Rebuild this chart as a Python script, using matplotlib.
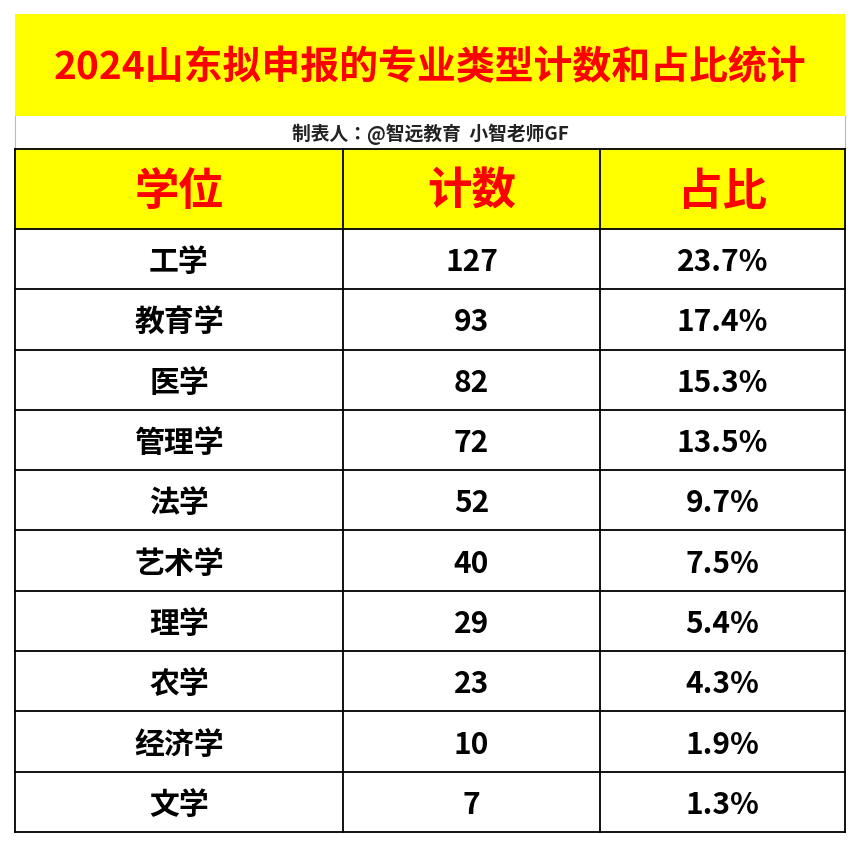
import matplotlib
matplotlib.use("Agg")
import matplotlib.pyplot as plt
from matplotlib.patches import Rectangle
from matplotlib import font_manager as fm

title = "2024山东拟申报的专业类型计数和占比统计"
subtitle = "制表人：@智远教育  小智老师GF"
headers = ["学位", "计数", "占比"]
degrees = ["工学", "教育学", "医学", "管理学", "法学", "艺术学", "理学", "农学", "经济学", "文学"]
counts = [127, 93, 82, 72, 52, 40, 29, 23, 10, 7]
shares = ["23.7%", "17.4%", "15.3%", "13.5%", "9.7%", "7.5%", "5.4%", "4.3%", "1.9%", "1.3%"]

files = sorted(fm.findSystemFonts())
cjk = [f for f in files if "CJK" in f and "Serif" not in f and "Sans" in f]
bold = [f for f in cjk if "Bold" in f] or cjk
def fp(size):
    if bold:
        return fm.FontProperties(fname=bold[0], size=size)
    return fm.FontProperties(family="Noto Sans CJK SC", weight="bold", size=size)

W, H = 860, 847
fig = plt.figure(figsize=(W/100, H/100), dpi=100)
ax = fig.add_axes([0, 0, 1, 1])
ax.set_xlim(0, W); ax.set_ylim(H, 0); ax.axis("off")
L, R = 15, 845
cols = [15, 343, 600, 845]
yel = "#FFFF00"; red = "#FF0000"

ax.add_patch(Rectangle((L, 14), R-L, 102, fc=yel, ec="none"))
ax.text((L+R)/2, 68, title, ha="center", va="center", color=red, fontproperties=fp(28))
ax.text((L+R)/2, 134, subtitle, ha="center", va="center", color="#222222", fontproperties=fp(13.5))
ax.plot([L, L], [116, 149], color="#bbbbbb", lw=0.8)
ax.plot([R, R], [116, 149], color="#bbbbbb", lw=0.8)

hy0, hy1 = 149, 229
ax.add_patch(Rectangle((L, hy0), R-L, hy1-hy0, fc=yel, ec="none"))
for i, h in enumerate(headers):
    ax.text((cols[i]+cols[i+1])/2, (hy0+hy1)/2 + 3, h, ha="center", va="center", color=red, fontproperties=fp(32))

rh = (832-hy1)/len(degrees)
for r in range(len(degrees)):
    yc = hy1 + rh*(r+0.5) + 3
    vals = [degrees[r], str(counts[r]), shares[r]]
    for i, v in enumerate(vals):
        ax.text((cols[i]+cols[i+1])/2, yc, v, ha="center", va="center", color="black", fontproperties=fp(21.5))

for k in range(len(degrees)+2):
    y = hy0 + (0 if k == 0 else (hy1-hy0) + rh*(k-1))
    ax.plot([L, R], [y, y], color="black", lw=1.3)
for x in cols:
    ax.plot([x, x], [hy0, 832], color="black", lw=1.3)

fig.savefig("out.png", dpi=100)
